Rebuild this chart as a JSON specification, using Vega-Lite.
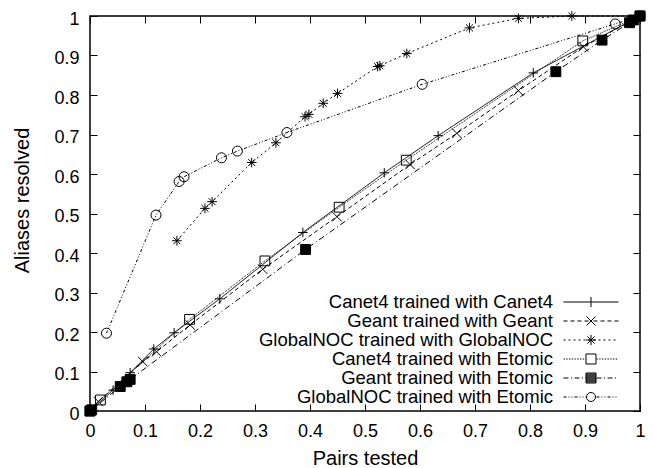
{
  "$schema": "https://vega.github.io/schema/vega-lite/v6.json",
  "autosize": "none",
  "width": 550,
  "height": 395,
  "padding": {"left": 90, "top": 16, "right": 13, "bottom": 57},
  "background": "white",
  "config": {
    "font": "Liberation Sans",
    "view": {"stroke": "black", "strokeWidth": 1.5},
    "axis": {
      "grid": false,
      "domain": false,
      "ticks": true,
      "tickSize": -7,
      "tickColor": "black",
      "tickWidth": 1,
      "labelColor": "black",
      "labelFontSize": 18,
      "labelFlush": false,
      "labelOverlap": false,
      "titleColor": "black",
      "titleFontSize": 20,
      "titleFontWeight": "normal",
      "values": [0, 0.1, 0.2, 0.3, 0.4, 0.5, 0.6, 0.7, 0.8, 0.9, 1],
      "format": "~g"
    }
  },
  "data": {
    "values": [
      {"series": "Canet4 trained with Canet4", "x": 0, "y": 0},
      {"series": "Canet4 trained with Canet4", "x": 0.042, "y": 0.053},
      {"series": "Canet4 trained with Canet4", "x": 0.073, "y": 0.097},
      {"series": "Canet4 trained with Canet4", "x": 0.116, "y": 0.157},
      {"series": "Canet4 trained with Canet4", "x": 0.153, "y": 0.198},
      {"series": "Canet4 trained with Canet4", "x": 0.236, "y": 0.284},
      {"series": "Canet4 trained with Canet4", "x": 0.387, "y": 0.452},
      {"series": "Canet4 trained with Canet4", "x": 0.535, "y": 0.603},
      {"series": "Canet4 trained with Canet4", "x": 0.633, "y": 0.697},
      {"series": "Canet4 trained with Canet4", "x": 0.806, "y": 0.856},
      {"series": "Canet4 trained with Canet4", "x": 1, "y": 1},
      {"series": "Geant trained with Geant", "x": 0, "y": 0},
      {"series": "Geant trained with Geant", "x": 0.015, "y": 0.024},
      {"series": "Geant trained with Geant", "x": 0.096, "y": 0.125},
      {"series": "Geant trained with Geant", "x": 0.121, "y": 0.15},
      {"series": "Geant trained with Geant", "x": 0.182, "y": 0.218},
      {"series": "Geant trained with Geant", "x": 0.314, "y": 0.359},
      {"series": "Geant trained with Geant", "x": 0.449, "y": 0.492},
      {"series": "Geant trained with Geant", "x": 0.582, "y": 0.624},
      {"series": "Geant trained with Geant", "x": 0.667, "y": 0.703},
      {"series": "Geant trained with Geant", "x": 0.779, "y": 0.811},
      {"series": "Geant trained with Geant", "x": 0.897, "y": 0.922},
      {"series": "Geant trained with Geant", "x": 1, "y": 1},
      {"series": "GlobalNOC trained with GlobalNOC", "x": 0.158, "y": 0.431},
      {"series": "GlobalNOC trained with GlobalNOC", "x": 0.209, "y": 0.513},
      {"series": "GlobalNOC trained with GlobalNOC", "x": 0.222, "y": 0.53},
      {"series": "GlobalNOC trained with GlobalNOC", "x": 0.294, "y": 0.629},
      {"series": "GlobalNOC trained with GlobalNOC", "x": 0.338, "y": 0.679},
      {"series": "GlobalNOC trained with GlobalNOC", "x": 0.391, "y": 0.745},
      {"series": "GlobalNOC trained with GlobalNOC", "x": 0.398, "y": 0.751},
      {"series": "GlobalNOC trained with GlobalNOC", "x": 0.424, "y": 0.779},
      {"series": "GlobalNOC trained with GlobalNOC", "x": 0.45, "y": 0.804},
      {"series": "GlobalNOC trained with GlobalNOC", "x": 0.523, "y": 0.872},
      {"series": "GlobalNOC trained with GlobalNOC", "x": 0.527, "y": 0.874},
      {"series": "GlobalNOC trained with GlobalNOC", "x": 0.576, "y": 0.905},
      {"series": "GlobalNOC trained with GlobalNOC", "x": 0.69, "y": 0.97},
      {"series": "GlobalNOC trained with GlobalNOC", "x": 0.779, "y": 0.994},
      {"series": "GlobalNOC trained with GlobalNOC", "x": 0.876, "y": 1.0},
      {"series": "GlobalNOC trained with GlobalNOC", "x": 1, "y": 1},
      {"series": "Canet4 trained with Etomic", "x": 0, "y": 0},
      {"series": "Canet4 trained with Etomic", "x": 0.019, "y": 0.028},
      {"series": "Canet4 trained with Etomic", "x": 0.181, "y": 0.232},
      {"series": "Canet4 trained with Etomic", "x": 0.318, "y": 0.38},
      {"series": "Canet4 trained with Etomic", "x": 0.453, "y": 0.516},
      {"series": "Canet4 trained with Etomic", "x": 0.575, "y": 0.635},
      {"series": "Canet4 trained with Etomic", "x": 0.896, "y": 0.937},
      {"series": "Canet4 trained with Etomic", "x": 1, "y": 1},
      {"series": "Geant trained with Etomic", "x": 0, "y": 0},
      {"series": "Geant trained with Etomic", "x": 0.003, "y": 0.003},
      {"series": "Geant trained with Etomic", "x": 0.055, "y": 0.062},
      {"series": "Geant trained with Etomic", "x": 0.067, "y": 0.074},
      {"series": "Geant trained with Etomic", "x": 0.073, "y": 0.08},
      {"series": "Geant trained with Etomic", "x": 0.392, "y": 0.409},
      {"series": "Geant trained with Etomic", "x": 0.847, "y": 0.859},
      {"series": "Geant trained with Etomic", "x": 0.931, "y": 0.939},
      {"series": "Geant trained with Etomic", "x": 0.981, "y": 0.983},
      {"series": "Geant trained with Etomic", "x": 0.988, "y": 0.99},
      {"series": "Geant trained with Etomic", "x": 1, "y": 1},
      {"series": "GlobalNOC trained with Etomic", "x": 0.03, "y": 0.197},
      {"series": "GlobalNOC trained with Etomic", "x": 0.12, "y": 0.496},
      {"series": "GlobalNOC trained with Etomic", "x": 0.162, "y": 0.581},
      {"series": "GlobalNOC trained with Etomic", "x": 0.171, "y": 0.593},
      {"series": "GlobalNOC trained with Etomic", "x": 0.239, "y": 0.641},
      {"series": "GlobalNOC trained with Etomic", "x": 0.268, "y": 0.658},
      {"series": "GlobalNOC trained with Etomic", "x": 0.358, "y": 0.705},
      {"series": "GlobalNOC trained with Etomic", "x": 0.604, "y": 0.827},
      {"series": "GlobalNOC trained with Etomic", "x": 0.955, "y": 0.98},
      {"series": "GlobalNOC trained with Etomic", "x": 1, "y": 1}
    ]
  },
  "layer": [
    {
      "mark": {"type": "line", "color": "black", "strokeWidth": 1},
      "encoding": {
        "x": {"field": "x", "type": "quantitative", "scale": {"domain": [0, 1], "nice": false, "zero": false},
              "axis": {"orient": "bottom", "title": "Pairs tested", "labelPadding": 18, "titleY": 53, "titleBaseline": "alphabetic"}},
        "y": {"field": "y", "type": "quantitative", "scale": {"domain": [0, 1], "nice": false, "zero": false},
              "axis": {"orient": "left", "title": "Aliases resolved", "labelPadding": 18, "labelOffset": 3, "titleX": -62, "titleY": 184, "titleBaseline": "alphabetic", "titleAlign": "center", "titleAngle": -90}},
        "strokeDash": {"field": "series", "type": "nominal",
          "scale": {"domain": ["Canet4 trained with Canet4", "Geant trained with Geant", "GlobalNOC trained with GlobalNOC", "Canet4 trained with Etomic", "Geant trained with Etomic", "GlobalNOC trained with Etomic"],
                    "range": [[1, 0], [4, 3], [2, 3], [1, 1], [6, 3, 1, 3], [3, 2, 1, 2, 1, 2]]},
          "legend": null}
      }
    },
    {
      "mark": {"type": "point", "filled": false, "stroke": "black", "strokeWidth": 1, "opacity": 1},
      "encoding": {
        "x": {"field": "x", "type": "quantitative", "scale": {"domain": [0, 1], "nice": false, "zero": false},
              "axis": {"orient": "top", "labels": false, "title": null}},
        "y": {"field": "y", "type": "quantitative", "scale": {"domain": [0, 1], "nice": false, "zero": false},
              "axis": {"orient": "right", "labels": false, "title": null}},
        "shape": {"field": "series", "type": "nominal",
          "scale": {"domain": ["Canet4 trained with Canet4", "Geant trained with Geant", "GlobalNOC trained with GlobalNOC", "Canet4 trained with Etomic", "Geant trained with Etomic", "GlobalNOC trained with Etomic"],
                    "range": ["M0,-1V1M-1,0H1", "M-1,-1L1,1M-1,1L1,-1", "M-1,0H1M0,-1V1M-0.72,-0.72L0.72,0.72M-0.72,0.72L0.72,-0.72", "square", "square", "circle"]},
          "legend": null},
        "size": {"field": "series", "type": "nominal",
          "scale": {"domain": ["Canet4 trained with Canet4", "Geant trained with Geant", "GlobalNOC trained with GlobalNOC", "Canet4 trained with Etomic", "Geant trained with Etomic", "GlobalNOC trained with Etomic"],
                    "range": [90, 100, 110, 100, 100, 81]},
          "legend": null},
        "fill": {"condition": {"test": "datum.series === 'Geant trained with Etomic'", "value": "black"}, "value": "transparent"}
      }
    },
    {
      "transform": [{"filter": "false"}],
      "mark": {"type": "point", "filled": false, "stroke": "black", "opacity": 1},
      "encoding": {
        "shape": {"field": "series", "type": "nominal",
          "scale": {"domain": ["Canet4 trained with Canet4", "Geant trained with Geant", "GlobalNOC trained with GlobalNOC", "Canet4 trained with Etomic", "Geant trained with Etomic", "GlobalNOC trained with Etomic"],
                    "range": [
                      "M-3.056,0H3.056M0,-0.556V0.556",
                      "M-3.056,0H-2.611M-2.278,0H-1.833M-1.5,0H-1.056M-0.722,0H-0.278M0.278,0H0.722M1.056,0H1.5M1.833,0H2.278M2.611,0H3.056M-0.5,-0.5L0.5,0.5M-0.5,0.5L0.5,-0.5",
                      "M-3.056,0H-2.833M-2.5,0H-2.278M-1.944,0H-1.722M-1.389,0H-1.167M-0.833,0H-0.611M-0.278,0H-0.056M0.278,0H0.5M0.833,0H1.056M1.389,0H1.611M1.944,0H2.167M2.5,0H2.722M-0.556,0H0.556M0,-0.556V0.556M-0.4,-0.4L0.4,0.4M-0.4,0.4L0.4,-0.4",
                      "M-3.056,0H-2.903M-2.75,0H-2.597M-2.444,0H-2.291M-2.139,0H-1.986M-1.833,0H-1.68M-1.528,0H-1.375M-1.222,0H-1.069M-0.917,0H-0.764M-0.611,0H-0.556M0.611,0H0.764M0.917,0H1.07M1.222,0H1.375M1.528,0H1.681M1.833,0H1.986M2.139,0H2.292M2.444,0H2.597M2.75,0H2.903M-0.556,-0.556H0.556V0.556H-0.556Z",
                      "M-3.056,0H-2.5M-2.222,0H-2.111M-1.833,0H-1.278M-1,0H-0.889M-0.611,0H-0.556M0.611,0H1.167M1.444,0H1.556M1.833,0H2.389M2.667,0H2.778M-0.556,-0.556H0.556V0.556H-0.556ZM-0.556,-0.444H0.556M-0.556,-0.333H0.556M-0.556,-0.222H0.556M-0.556,-0.111H0.556M-0.556,0H0.556M-0.556,0.111H0.556M-0.556,0.222H0.556M-0.556,0.333H0.556M-0.556,0.444H0.556",
                      "M-3.056,0H-2.722M-2.5,0H-2.389M-2.167,0H-2.056M-1.833,0H-1.5M-1.278,0H-1.167M-0.944,0H-0.833M-0.611,0H-0.5M0.611,0H0.944M1.167,0H1.278M1.5,0H1.611M1.833,0H2.167M2.389,0H2.5M2.722,0H2.833M0.5,0A0.5,0.5 0 1,1 -0.5,0A0.5,0.5 0 1,1 0.5,0Z"
                    ]},
          "legend": {
            "orient": "none",
            "legendX": 491.5,
            "legendY": 276.5,
            "title": null,
            "padding": 0,
            "rowPadding": 0,
            "symbolSize": 324,
            "symbolStrokeWidth": 1,
            "symbolStrokeColor": "black",
            "symbolFillColor": "transparent",
            "labelFontSize": 18.5,
            "labelColor": "black",
            "labelAlign": "right",
            "labelOffset": -47.5,
            "labelLimit": 0,
            "encode": {
              "symbols": {
                "update": {
                  "stroke": {"value": "black"},
                  "strokeWidth": {"value": 1},
                  "opacity": {"value": 1}
                }
              }
            }
          }
        }
      }
    }
  ],
  "resolve": {
    "axis": {"x": "independent", "y": "independent"},
    "scale": {"shape": "independent"},
    "legend": {"shape": "independent"}
  }
}
